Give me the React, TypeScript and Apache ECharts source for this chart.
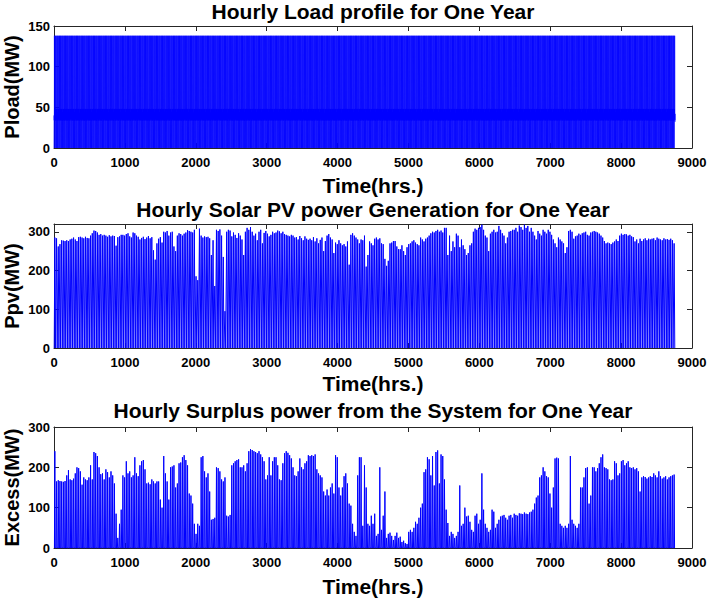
import React, { useEffect, useRef } from "react";
import * as echarts from "echarts";

// x-axis ticks (hours)
const xTicks = [0, 1000, 2000, 3000, 4000, 5000, 6000, 7000, 8000, 9000];

// Typical hourly load profile of one day (MW), repeated for every day of the year
const loadDayProfile = [0, 32, 40, 34, 48, 138, 138, 48, 36, 48, 32, 0, 32, 44, 36, 48, 40, 48, 138, 138, 48, 34, 42, 32];

// Daily peak of PV generation (MW), one value per day
const pvDailyPeak = [
  285, 283, 262, 268, 278, 277, 276, 278, 276, 280,
  282, 285, 280, 276, 286, 287, 285, 283, 287, 284,
  283, 290, 296, 303, 302, 298, 292, 294, 290, 292,
  290, 287, 291, 288, 290, 289, 264, 286, 288, 292,
  292, 290, 294, 296, 288, 285, 298, 296, 290, 287,
  280, 284, 287, 281, 285, 289, 283, 286, 252, 228,
  270, 282, 286, 272, 300, 298, 302, 290, 298, 300,
  262, 250, 290, 296, 294, 290, 295, 298, 304, 302,
  300, 298, 305, 185, 175, 308, 290, 285, 288, 286,
  287, 283, 240, 278, 160, 305, 302, 306, 290, 235,
  95, 300, 305, 303, 288, 298, 292, 284, 296, 290,
  280, 240, 300, 310, 305, 312, 300, 290, 295, 278,
  300, 305, 270, 297, 302, 295, 288, 292, 300, 296,
  298, 303, 301, 296, 300, 294, 292, 290, 288, 292,
  290, 285, 286, 280, 289, 283, 278, 288, 282, 279,
  282, 278, 286, 275, 283, 270, 279, 285, 250, 276,
  290, 294, 285, 280, 245, 272, 268, 278, 270, 265,
  268, 262, 275, 215, 292, 296, 290, 285, 280, 270,
  280, 278, 290, 210, 240, 275, 270, 265, 282, 285,
  280, 283, 270, 268, 230, 212, 225, 270, 272, 276,
  276, 262, 255, 255, 265, 250, 240, 260, 268, 270,
  275, 278, 272, 268, 265, 285, 280, 275, 282, 285,
  290, 296, 300, 298, 302, 305, 300, 303, 298, 310,
  310, 240, 290, 250, 275, 260, 295, 290, 260, 280,
  265, 255, 240, 245, 265, 270, 300, 308, 305, 310,
  312, 318, 305, 290, 285, 250, 295, 300, 305, 298,
  300, 315, 305, 296, 290, 270, 285, 300, 302, 305,
  305, 310, 300, 316, 312, 305, 318, 310, 315, 300,
  310, 300, 290, 280, 302, 295, 290, 305, 300, 295,
  305, 300, 292, 280, 270, 260, 285, 280, 275, 270,
  245, 260, 302, 305, 300, 282, 288, 290, 295, 292,
  296, 298, 300, 292, 290, 298, 300, 302, 300, 298,
  295, 290, 285, 276, 270, 272, 270, 268, 272, 275,
  280, 276, 290, 295, 292, 294, 293, 290, 292, 288,
  286, 275, 280, 270, 282, 276, 280, 283, 278, 282,
  280, 282, 283, 278, 285, 282, 280, 278, 283, 280,
  281, 279, 282, 278, 270,
];

// Daily peak of surplus power (MW), one value per day
const excessDailyPeak = [
  240, 165, 168, 166, 165, 164, 166, 180, 193, 170,
  168, 172, 185, 200, 198, 190, 157, 175, 170, 168,
  175, 205, 170, 238, 235, 228, 200, 183, 185, 170,
  195, 188, 175, 190, 180, 160, 85, 25, 60, 95,
  180, 175, 215, 185, 190, 175, 180, 225, 185, 178,
  205, 215, 218, 195, 160, 162, 158, 170, 165, 160,
  165, 165, 120, 100, 228, 185, 165, 120, 200, 202,
  205, 150, 160, 210, 212, 225, 230, 218, 205, 135,
  130, 110, 60, 35, 60, 55, 225, 228, 190, 175,
  185, 140, 70, 72, 75, 200, 198, 190, 170, 165,
  175, 80, 78, 82, 205, 210, 215, 218, 220, 200,
  200, 205, 190, 210, 240, 245, 243, 240, 238, 235,
  240, 232, 225, 215, 170, 180, 225, 180, 215, 225,
  225, 205, 170, 168, 210, 235, 240, 236, 230, 222,
  200, 180, 178, 190, 222, 200, 195, 210, 215, 230,
  228, 230, 228, 232, 195, 185, 180, 175, 140, 130,
  145, 130, 150, 160, 135, 230, 225, 150, 130, 150,
  178, 185, 160, 110, 105, 60, 40, 30, 180, 225,
  225, 55, 205, 150, 60, 55, 80, 60, 85, 30,
  35, 200, 45, 80, 140, 25, 35, 38, 30, 20,
  30, 38, 25, 28, 15, 18, 12, 10, 40, 45,
  40, 50, 65, 60, 75, 100, 110, 188, 195, 225,
  220, 180, 228, 155, 238, 242, 160, 232, 228, 170,
  95, 62, 30, 40, 35, 25, 30, 40, 155, 55,
  60, 100, 78, 80, 65, 45, 40, 80, 85, 60,
  70, 185, 95, 60, 50, 40, 45, 95, 90, 50,
  60, 70, 78, 80, 82, 75, 70, 80, 82, 75,
  85, 82, 80, 86, 85, 84, 88, 85, 84, 88,
  90, 95, 110, 125, 130, 175, 180, 200, 190, 178,
  175, 135, 100, 150, 222, 224, 222, 60, 55, 50,
  55, 50, 60, 228, 70, 60, 55, 50, 60, 150,
  150, 175, 198, 200, 110, 130, 200, 200, 190, 198,
  210, 225, 232, 200, 198, 195, 170, 168, 170, 215,
  210, 180, 185, 215, 218, 205, 210, 215, 200, 198,
  200, 195, 198, 190, 140, 175, 178, 176, 172, 175,
  178, 176, 185, 180, 175, 190, 178, 172, 175, 178,
  170, 175, 178, 180, 182,
];

// Start / peak / end hour of the daily generation spike
const pvHours = [3, 12, 21];
const excessHours = [6, 12, 18];

const titles = [
  "Hourly Load profile for One Year",
  "Hourly Solar PV power Generation for One Year",
  "Hourly Surplus power from the System for One Year",
];
const yNames = ["Pload(MW)", "Ppv(MW)", "Excess(MW)"];
const xName = "Time(hrs.)";
const yMax = [150, 320, 300];
const yInterval = [50, 100, 100];

const DAYS = 365;
const HPD = 24;

function buildLoad(): number[][] {
  const out: number[][] = [];
  for (let d = 0; d < DAYS; d++) {
    for (let h = 0; h < HPD; h++) out.push([d * HPD + h + 1, loadDayProfile[h]]);
  }
  return out;
}

function buildDaily(peaks: number[], hrs: number[]): number[][] {
  const out: number[][] = [];
  for (let d = 0; d < peaks.length; d++) {
    out.push([d * HPD + hrs[0], 0]);
    out.push([d * HPD + hrs[1], peaks[d]]);
    out.push([d * HPD + hrs[2], 0]);
  }
  return out;
}

const FONT = '"Liberation Sans", Arial, Helvetica, sans-serif';
const AXIS_COLOR = "#262626";
const BLUE = "#0000ff";

const grids = [
  { left: 54, right: 16, top: 26, height: 122, outerBoundsMode: "none", containLabel: false },
  { left: 54, right: 16, top: 224, height: 124, outerBoundsMode: "none", containLabel: false },
  { left: 54, right: 16, top: 427, height: 121, outerBoundsMode: "none", containLabel: false },
];
const titleY = [11, 209, 410];
const xNameGap = [27, 25, 28];
const lineWidths = [0.8, 1, 1];
const yNameX = 12;

export default function App() {
  const ref = useRef<HTMLDivElement>(null);
  useEffect(() => {
    if (!ref.current) return;
    const chart = echarts.init(ref.current, null, { renderer: "svg" });
    const seriesData = [buildLoad(), buildDaily(pvDailyPeak, pvHours), buildDaily(excessDailyPeak, excessHours)];

    const xAxis: any[] = [];
    const yAxis: any[] = [];
    const series: any[] = [];
    const graphic: any[] = [];
    const plain = (v: number) => String(v);

    for (let i = 0; i < 3; i++) {
      xAxis.push({
        type: "value",
        gridIndex: i,
        position: "bottom",
        min: xTicks[0],
        max: xTicks[xTicks.length - 1],
        interval: 1000,
        axisLine: { show: true, onZero: false, lineStyle: { color: AXIS_COLOR, width: 1 } },
        axisTick: { show: true, inside: true, length: 5, lineStyle: { color: AXIS_COLOR } },
        axisLabel: { show: true, margin: 8, color: "#000", fontFamily: FONT, fontWeight: "bold", fontSize: 13, formatter: plain },
        splitLine: { show: false },
        name: xName,
        nameLocation: "middle",
        nameGap: xNameGap[i],
        nameTextStyle: { color: "#000", fontFamily: FONT, fontWeight: "bold", fontSize: 21 },
      });
      xAxis.push({
        type: "value",
        gridIndex: i,
        position: "top",
        min: xTicks[0],
        max: xTicks[xTicks.length - 1],
        interval: 1000,
        axisLine: { show: true, onZero: false, lineStyle: { color: AXIS_COLOR, width: 1 } },
        axisTick: { show: true, inside: true, length: 5, lineStyle: { color: AXIS_COLOR } },
        axisLabel: { show: false },
        splitLine: { show: false },
      });
      yAxis.push({
        type: "value",
        gridIndex: i,
        position: "left",
        min: 0,
        max: yMax[i],
        interval: yInterval[i],
        axisLine: { show: true, onZero: false, lineStyle: { color: AXIS_COLOR, width: 1 } },
        axisTick: { show: true, inside: true, length: 5, lineStyle: { color: AXIS_COLOR } },
        axisLabel: { show: true, margin: 4, color: "#000", fontFamily: FONT, fontWeight: "bold", fontSize: 13, showMaxLabel: i !== 1, formatter: plain },
        splitLine: { show: false },
      });
      yAxis.push({
        type: "value",
        gridIndex: i,
        position: "right",
        min: 0,
        max: yMax[i],
        interval: yInterval[i],
        axisLine: { show: true, onZero: false, lineStyle: { color: AXIS_COLOR, width: 1 } },
        axisTick: { show: true, inside: true, length: 5, lineStyle: { color: AXIS_COLOR } },
        axisLabel: { show: false },
        splitLine: { show: false },
      });
      series.push({
        type: "line",
        xAxisIndex: i * 2,
        yAxisIndex: i * 2,
        data: seriesData[i],
        showSymbol: false,
        symbol: "none",
        silent: true,
        lineStyle: { color: BLUE, width: lineWidths[i] },
        z: 1,
      });
      graphic.push({
        type: "text",
        x: 373,
        y: titleY[i],
        style: {
          text: titles[i],
          fill: "#000",
          font: `bold 21px ${FONT}`,
          align: "center",
          verticalAlign: "middle",
          textAlign: "center",
          textVerticalAlign: "middle",
        },
      });
      graphic.push({
        type: "text",
        x: yNameX,
        y: grids[i].top + grids[i].height / 2,
        rotation: Math.PI / 2,
        style: {
          text: yNames[i],
          fill: "#000",
          font: `bold 20px ${FONT}`,
          align: "center",
          verticalAlign: "middle",
          textAlign: "center",
          textVerticalAlign: "middle",
        },
      });
    }

    chart.setOption({
      animation: false,
      backgroundColor: "#ffffff",
      grid: grids,
      xAxis,
      yAxis,
      series,
      graphic,
    });
    return () => chart.dispose();
  }, []);
  return <div ref={ref} style={{ position: "fixed", left: 0, top: 0, width: 708, height: 601 }} />;
}
